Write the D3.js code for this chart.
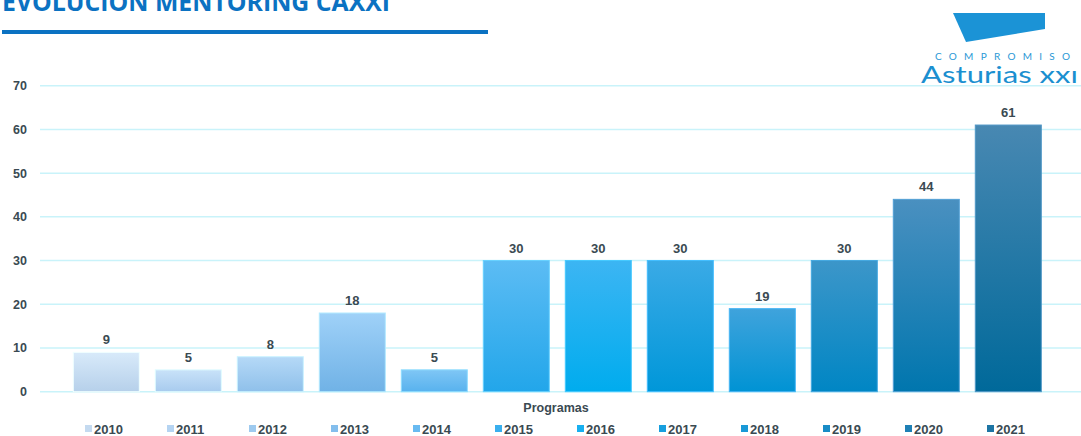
<!DOCTYPE html>
<html>
<head>
<meta charset="utf-8">
<script src="https://cdn.jsdelivr.net/npm/d3@7"></script>
<style>
  html, body { margin: 0; padding: 0; background: #fff; }
  svg { display: block; }
</style>
</head>
<body>
<div id="chart"></div>
<script>
// data
const years = ["2010", "2011", "2012", "2013", "2014", "2015", "2016", "2017", "2018", "2019", "2020", "2021"];
const programas = [9, 5, 8, 18, 5, 30, 30, 30, 19, 30, 44, 61];
const yTicks = [0, 10, 20, 30, 40, 50, 60, 70];
// top / bottom colours of each bar gradient
const topColors = ["#d8eafa", "#c8e2f9", "#b5d9f7", "#9fd1f8", "#7fc6f5", "#5cbcf4", "#3cb5f3", "#3aaae6", "#3fa3dc", "#3c96c9", "#4a90c0", "#4888b2"];
const bottomColors = ["#b6d0ea", "#a8cbee", "#8fc0ea", "#70b2e6", "#58b2ee", "#22a6ea", "#00acee", "#0097d9", "#0093d4", "#0086c4", "#0076ae", "#00699a"];

const width = 1081, height = 436;

const svg = d3.select("#chart").append("svg")
    .attr("width", width)
    .attr("height", height);

const defs = svg.append("defs");
years.forEach((y, i) => {
    const g = defs.append("linearGradient")
        .attr("id", "grad" + y)
        .attr("x1", 0).attr("y1", 0).attr("x2", 0).attr("y2", 1);
    g.append("stop").attr("offset", "0%").attr("stop-color", topColors[i]);
    g.append("stop").attr("offset", "100%").attr("stop-color", bottomColors[i]);
});

// title + rule (title is cut by the top edge, as in the original slide)
svg.append("text")
    .attr("x", 2)
    .attr("y", 11)
    .attr("font-family", "'Open Sans', sans-serif")
    .attr("font-weight", "bold")
    .attr("font-size", 25)
    .attr("fill", "#0b72c2")
    .attr("textLength", 388)
    .attr("lengthAdjust", "spacingAndGlyphs")
    .text("EVOLUCION MENTORING CAXXI");

svg.append("rect")
    .attr("x", 2).attr("y", 30)
    .attr("width", 486).attr("height", 4)
    .attr("fill", "#0b72c2");

// logo
const logo = svg.append("g");
logo.append("path")
    .attr("d", "M953,13 L1045,13 L1045,29 L966,42 Z")
    .attr("fill", "#1b93d6");
logo.append("text")
    .attr("x", 935).attr("y", 60)
    .attr("font-family", "Lato, sans-serif")
    .attr("font-size", 10)
    .attr("fill", "#2a98d6")
    .attr("textLength", 135)
    .attr("lengthAdjust", "spacing")
    .text("COMPROMISO");
logo.append("text")
    .attr("x", 921).attr("y", 83)
    .attr("font-family", "Lato, sans-serif")
    .attr("font-size", 24)
    .attr("fill", "#1b8fd0")
    .attr("textLength", 157)
    .attr("lengthAdjust", "spacingAndGlyphs")
    .text("Asturias xxı");

// scales
const x = d3.scaleBand()
    .domain(years)
    .range([65.3, 1049.3])
    .paddingInner(0.195)
    .paddingOuter(0.0975);

const y = d3.scaleLinear()
    .domain([0, 70])
    .range([391.7, 85.7]);

// grid
svg.append("g")
    .selectAll("line")
    .data(yTicks)
    .join("line")
    .attr("x1", 40)
    .attr("x2", width)
    .attr("y1", d => y(d))
    .attr("y2", d => y(d))
    .attr("stroke", "#c9f3fa")
    .attr("stroke-width", 1.5);

// y axis labels
const yAxis = d3.axisLeft(y).tickValues(yTicks).tickSize(0).tickPadding(0);
const yG = svg.append("g")
    .attr("transform", "translate(27,0)")
    .call(yAxis);
yG.select(".domain").remove();
yG.selectAll("text")
    .attr("font-family", "'Liberation Sans', Arial, sans-serif")
    .attr("font-weight", "bold")
    .attr("font-size", 12.5)
    .attr("fill", "#3a4a52");

// bars
svg.append("g")
    .selectAll("rect")
    .data(programas)
    .join("rect")
    .attr("x", (d, i) => x(years[i]))
    .attr("y", d => y(d))
    .attr("width", x.bandwidth())
    .attr("height", d => y(0) - y(d))
    .attr("fill", (d, i) => `url(#grad${years[i]})`)
    .attr("stroke", (d, i) => d3.color(topColors[i]).brighter(0.3))
    .attr("stroke-width", 1);

// value labels
svg.append("g")
    .selectAll("text")
    .data(programas)
    .join("text")
    .attr("x", (d, i) => x(years[i]) + x.bandwidth() / 2)
    .attr("y", d => y(d) - 8)
    .attr("text-anchor", "middle")
    .attr("font-family", "'Liberation Sans', Arial, sans-serif")
    .attr("font-weight", "bold")
    .attr("font-size", 13)
    .attr("fill", "#3a4a52")
    .text(d => d);

// category label
svg.append("text")
    .attr("x", 556)
    .attr("y", 412)
    .attr("text-anchor", "middle")
    .attr("font-family", "'Liberation Sans', Arial, sans-serif")
    .attr("font-weight", "bold")
    .attr("font-size", 12.5)
    .attr("fill", "#3a4a52")
    .text("Programas");

// legend
const legend = svg.append("g")
    .selectAll("g")
    .data(years)
    .join("g")
    .attr("transform", (d, i) => `translate(${85 + i * 82},0)`);

legend.append("rect")
    .attr("x", 0).attr("y", 425)
    .attr("width", 7).attr("height", 7)
    .attr("fill", (d, i) => d3.interpolateRgb(topColors[i], bottomColors[i])(0.6));

legend.append("text")
    .attr("x", 9)
    .attr("y", 433.5)
    .attr("font-family", "'Liberation Sans', Arial, sans-serif")
    .attr("font-weight", "bold")
    .attr("font-size", 13)
    .attr("fill", "#3a4a52")
    .text(d => d);
</script>
</body>
</html>
